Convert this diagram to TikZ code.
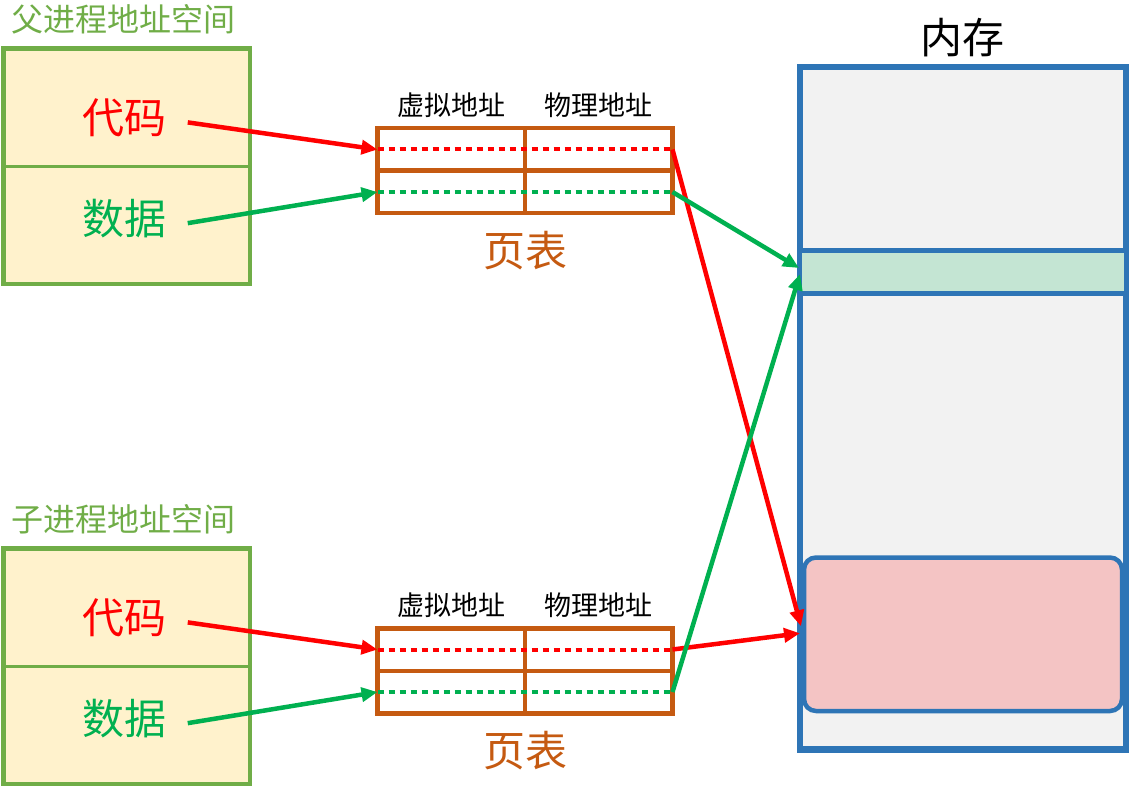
\documentclass[tikz,border=0pt]{standalone}
\usepackage{fontspec}
\newfontfamily\cjk{Noto Sans CJK SC}
\usetikzlibrary{positioning, arrows.meta}
\definecolor{titlegreen}{HTML}{70AD47}
\definecolor{codered}{HTML}{FF0000}
\definecolor{datagreen}{HTML}{00B050}
\definecolor{tablebrown}{HTML}{C55A11}
\definecolor{memblue}{HTML}{2E75B6}
\definecolor{cellyellow}{HTML}{FFF2CC}
\definecolor{memgray}{HTML}{F2F2F2}
\definecolor{bandgreen}{HTML}{C4E5D3}
\definecolor{heappink}{HTML}{F4C4C4}
\tikzset{
    >={Triangle[length=16pt, width=14pt]}, % Solid arrowheads
    every node/.style={inner sep=0pt, outer sep=0pt},
    titletext/.style={font=\cjk\fontsize{32}{32}\selectfont, text=titlegreen},
    bigtext/.style={font=\cjk\fontsize{42}{42}\selectfont},
    headtext/.style={font=\cjk\fontsize{27}{27}\selectfont, text=black},
}

\begin{document}
\begin{tikzpicture}[
    x=1pt, y=-1pt,
    % Cells of an address space
    cell/.style={draw=titlegreen, line width=2.5pt, fill=cellyellow,
        minimum width=246.5pt, minimum height=117.75pt},
    % Cells of a page table
    tcell/.style={draw=tablebrown, line width=4.5pt,
        minimum width=147.5pt, minimum height=42.5pt},
    memblock/.style={draw=memblue, line width=4.5pt, minimum width=326pt},
    codearrow/.style={->, draw=codered, line width=4.5pt},
    dataarrow/.style={->, draw=datagreen, line width=4.5pt},
    coderow/.style={draw=codered, line width=4pt, dash pattern=on 6pt off 5pt},
    datarow/.style={draw=datagreen, line width=4pt, dash pattern=on 6pt off 5pt}
]
    \useasboundingbox (0,0) rectangle (1129,786);

    % --- Memory ---
    \node[bigtext, text=black] (memtitle) at (962,38) {内存};
    \node[draw=memblue, line width=6.5pt, fill=memgray,
          minimum width=326pt, minimum height=682.5pt] (mem) at (963,408.25) {};
    \node[memblock, fill=bandgreen, minimum height=43pt] (band) at (963,272) {};
    \node[memblock, fill=heappink, rounded corners=12pt,
          minimum width=318pt, minimum height=153.5pt] (heap) at (963,634.25) {};

    % --- Parent process ---
    \node[titletext] (ptitle) at (124,19) {父进程地址空间};
    \node[cell] (pcodecell) at (126.75,107.4) {};
    \node[cell, below=0pt of pcodecell] (pdatacell) {};
    \draw[titlegreen, line width=4.5pt] (pcodecell.north west) rectangle (pdatacell.south east);
    \node[bigtext, text=codered] (pcode) at ([xshift=-2pt, yshift=-10pt]pcodecell.center) {代码};
    \node[bigtext, text=datagreen] (pdata) at ([xshift=-2pt, yshift=7pt]pdatacell.center) {数据};

    % Parent page table
    \node[tcell] (pv1) at (451.25,149.5) {};
    \node[tcell, right=0pt of pv1] (pp1) {};
    \node[tcell, below=0pt of pv1] (pv2) {};
    \node[tcell, right=0pt of pv2] (pp2) {};
    \node[headtext, above=11pt of pv1] (pvhead) {虚拟地址};
    \node[headtext, above=11pt of pp1] (pphead) {物理地址};
    \node[bigtext, text=tablebrown, below=18pt of pv2.south east] (ptable) {页表};
    \draw[coderow] (pv1.west) -- (pp1.east);
    \draw[datarow] (pv2.west) -- (pp2.east);

    % --- Child process ---
    \node[titletext] (ctitle) at (124,519) {子进程地址空间};
    \node[cell] (ccodecell) at (126.75,607.4) {};
    \node[cell, below=0pt of ccodecell] (cdatacell) {};
    \draw[titlegreen, line width=4.5pt] (ccodecell.north west) rectangle (cdatacell.south east);
    \node[bigtext, text=codered] (ccode) at ([xshift=-2pt, yshift=-10pt]ccodecell.center) {代码};
    \node[bigtext, text=datagreen] (cdata) at ([xshift=-2pt, yshift=7pt]cdatacell.center) {数据};

    % Child page table
    \node[tcell] (cv1) at (451.25,649.5) {};
    \node[tcell, right=0pt of cv1] (cp1) {};
    \node[tcell, below=0pt of cv1] (cv2) {};
    \node[tcell, right=0pt of cv2] (cp2) {};
    \node[headtext, above=11pt of cv1] (cvhead) {虚拟地址};
    \node[headtext, above=11pt of cp1] (cphead) {物理地址};
    \node[bigtext, text=tablebrown, below=18pt of cv2.south east] (ctable) {页表};
    \draw[coderow] (cv1.west) -- (cp1.east);
    \draw[datarow] (cv2.west) -- (cp2.east);

    % --- Mappings ---
    \draw[codearrow] ([xshift=21pt, yshift=-5pt]pcode.east) -- (pv1.west);
    \draw[dataarrow] ([xshift=21pt, yshift=-5pt]pdata.east) -- (pv2.west);
    \draw[codearrow] ([xshift=21pt, yshift=-5pt]ccode.east) -- (cv1.west);
    \draw[dataarrow] ([xshift=21pt, yshift=-5pt]cdata.east) -- (cv2.west);

    \draw[codearrow] (pp1.east) -- ([xshift=-3pt, yshift=8pt]heap.west);
    \draw[dataarrow] (pp2.east) -- ([xshift=-1pt, yshift=4pt]band.west);
    \draw[codearrow] (cp1.east) -- ([xshift=-4pt, yshift=1pt]heap.west);
    \draw[dataarrow] (cp2.east) -- ([yshift=-2pt]band.west);

\end{tikzpicture}
\end{document}
